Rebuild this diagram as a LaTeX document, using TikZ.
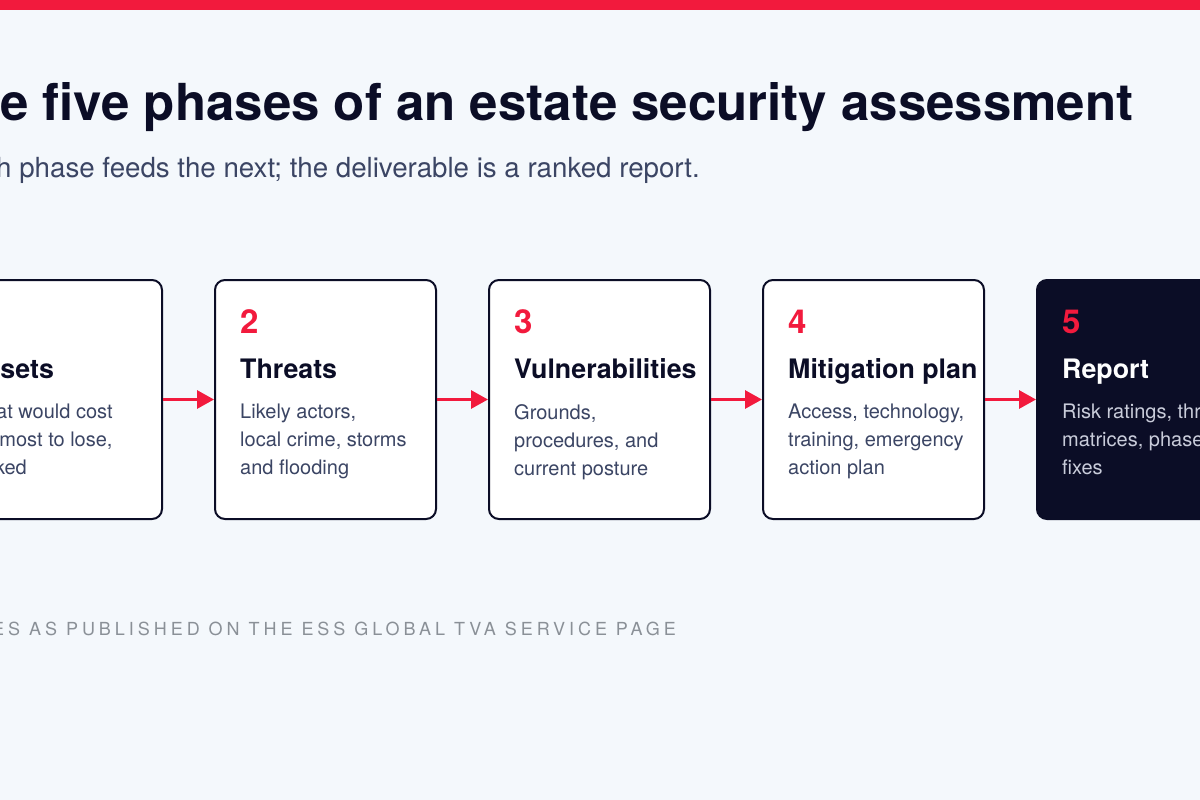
\documentclass[tikz,border=0pt]{standalone}
\usepackage{fontspec}
\setmainfont{TeX Gyre Heros}
\newfontfamily\capsfont[LetterSpace=22]{TeX Gyre Heros}
\usetikzlibrary{arrows.meta,positioning}

\definecolor{pagebg}{HTML}{F4F8FC}
\definecolor{accent}{HTML}{F21A3D}
\definecolor{navy}{HTML}{0B0D26}
\definecolor{slate}{HTML}{3B4564}
\definecolor{mist}{HTML}{C9CCDA}
\definecolor{ash}{HTML}{8A9097}

\begin{document}
\begin{tikzpicture}[x=1pt, y=-1pt,
  phasebox/.style={draw=navy, line width=2pt, fill=white, rounded corners=10pt,
    minimum width=221pt, minimum height=239pt, inner sep=0pt},
  darkbox/.style={phasebox, fill=navy},
  phasenum/.style={anchor=base west, inner sep=0pt, text=accent,
    font=\fontsize{33}{33}\selectfont\bfseries},
  phasehead/.style={anchor=base west, inner sep=0pt, text=navy,
    font=\fontsize{26.8}{26.8}\selectfont\bfseries},
  phasetext/.style={anchor=north west, inner sep=0pt, align=left, text=slate,
    font=\fontsize{20}{28}\selectfont},
  flow/.style={draw=accent, line width=3pt, -{Triangle[length=17pt,width=18pt]}}]
  \useasboundingbox (0,0) rectangle (1200,800);
  \clip (0,0) rectangle (1200,800);
  \fill[pagebg] (0,0) rectangle (1200,800);
  \fill[accent] (0,0) rectangle (1200,10);

  % heading
  \node[anchor=base west, inner sep=0pt, text=navy, font=\fontsize{51}{51}\selectfont\bfseries]
    (title) at (0,121) {\llap{Th}e five phases of an estate security assessment};
  \node[anchor=base west, inner sep=0pt, text=slate, font=\fontsize{27.7}{27.7}\selectfont]
    (subtitle) at (-4,177) {\llap{Eac}h phase feeds the next; the deliverable is a ranked report.};

  % phase boxes
  \node[phasebox] (b1) at (51.5,399.5) {};
  \node[phasebox, right=51pt of b1] (b2) {};
  \node[phasebox, right=51pt of b2] (b3) {};
  \node[phasebox, right=51pt of b3] (b4) {};
  \node[darkbox, right=51pt of b4] (b5) {};

  \draw[flow] (b1) -- (b2);
  \draw[flow] (b2) -- (b3);
  \draw[flow] (b3) -- (b4);
  \draw[flow] (b4) -- (b5);

  \node[phasenum] (n1) at ([shift={(26,54)}]b1.north west) {1};
  \node[phasehead] (h1) at ([shift={(26,99)}]b1.north west) {Assets};
  \node[phasetext] (t1) at ([shift={(26,125)}]b1.north west) {What would cost\\the most to lose,\\ranked};

  \node[phasenum] (n2) at ([shift={(26,54)}]b2.north west) {2};
  \node[phasehead] (h2) at ([shift={(26,99)}]b2.north west) {Threats};
  \node[phasetext] (t2) at ([shift={(26,125)}]b2.north west) {Likely actors,\\local crime, storms\\and flooding};

  \node[phasenum] (n3) at ([shift={(26,54)}]b3.north west) {3};
  \node[phasehead] (h3) at ([shift={(26,99)}]b3.north west) {Vulnerabilities};
  \node[phasetext] (t3) at ([shift={(26,125)}]b3.north west) {Grounds,\\procedures, and\\current posture};

  \node[phasenum] (n4) at ([shift={(26,54)}]b4.north west) {4};
  \node[phasehead] (h4) at ([shift={(26,99)}]b4.north west) {Mitigation plan};
  \node[phasetext] (t4) at ([shift={(26,125)}]b4.north west) {Access, technology,\\training, emergency\\action plan};

  \node[phasenum] (n5) at ([shift={(26,54)}]b5.north west) {5};
  \node[phasehead, text=white] (h5) at ([shift={(26,99)}]b5.north west) {Report};
  \node[phasetext, text=mist] (t5) at ([shift={(26,125)}]b5.north west) {Risk ratings, threat\\matrices, phased\\fixes};

  % source line
  \node[anchor=base west, inner sep=0pt, text=ash, font=\capsfont\fontsize{18}{18}\selectfont]
    (source) at (-8,635) {\llap{PHAS}ES AS PUBLISHED ON THE ESS GLOBAL TVA SERVICE PAGE};
\end{tikzpicture}
\end{document}
